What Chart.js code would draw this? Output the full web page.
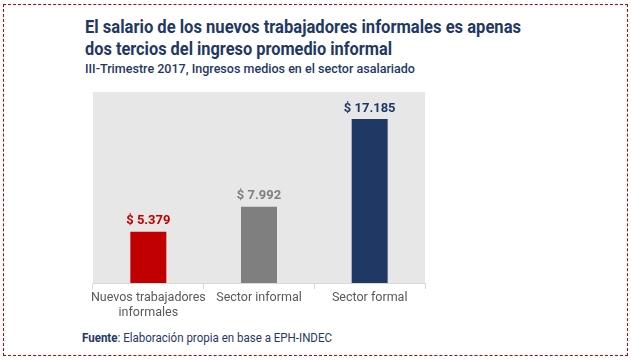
<!DOCTYPE html>
<html>
<head>
<meta charset="utf-8">
<script src="https://cdn.jsdelivr.net/npm/chart.js@4"></script>
<style>
  html, body { margin: 0; padding: 0; background: #fff; }
  body { width: 631px; height: 362px; position: relative; overflow: hidden; font-family: Roboto, sans-serif; }
  .frame { position: absolute; left: 3px; top: 4px; width: 623px; height: 350px; border: 1px dashed #c00000; }
  .txt { position: absolute; white-space: nowrap; color: #1f3864; transform-origin: left center; }
  .title { font-weight: 700; font-size: 19px; line-height: 22px; }
  .sub { font-size: 13px; font-weight: 500; }
  .foot { font-size: 12.5px; }
  #wrap { position: absolute; left: 0; top: 80px; width: 631px; height: 250px; }
</style>
</head>
<body>
<div class="frame"></div>
<div class="txt title" id="t1" data-w="436" style="left:85px; top:16px;">El salario de los nuevos trabajadores informales es apenas</div>
<div class="txt title" id="t2" data-w="307" style="left:85px; top:38px;">dos tercios del ingreso promedio informal</div>
<div class="txt sub" id="t3" data-w="330" style="left:85px; top:61px;">III-Trimestre 2017, Ingresos medios en el sector asalariado</div>
<div class="txt foot" id="t4" data-w="250" style="left:82px; top:330px;"><b>Fuente</b>: Elaboración propia en base a EPH-INDEC</div>
<div id="wrap"><canvas id="chart"></canvas></div>
<script>
var categories = [['Nuevos trabajadores', 'informales'], 'Sector informal', 'Sector formal'];
var values = [5379, 7992, 17185];
var valueLabels = ['$ 5.379', '$ 7.992', '$ 17.185'];
var barColors = ['#c00000', '#7f7f7f', '#1f3864'];

// squeeze text to the condensed widths of the original
document.querySelectorAll('.txt').forEach(function (el) {
  var target = parseFloat(el.getAttribute('data-w'));
  var w = el.getBoundingClientRect().width;
  if (w > 0) el.style.transform = 'scaleX(' + (target / w) + ')';
});

var plotBg = {
  id: 'plotBg',
  beforeDraw: function (chart) {
    var a = chart.chartArea, ctx = chart.ctx;
    ctx.save();
    ctx.fillStyle = '#e8e7e7';
    ctx.fillRect(a.left, a.top, a.right - a.left, a.bottom - a.top);
    ctx.restore();
  }
};

var barLabels = {
  id: 'barLabels',
  afterDatasetsDraw: function (chart) {
    var ctx = chart.ctx;
    var meta = chart.getDatasetMeta(0);
    ctx.save();
    ctx.font = 'bold 13px Roboto, sans-serif';
    ctx.textAlign = 'center';
    ctx.textBaseline = 'bottom';
    meta.data.forEach(function (bar, i) {
      ctx.fillStyle = barColors[i];
      ctx.fillText(valueLabels[i], bar.x, bar.y - 4);
    });
    ctx.restore();
  }
};

new Chart(document.getElementById('chart'), {
  type: 'bar',
  data: {
    labels: categories,
    datasets: [{
      data: values,
      backgroundColor: barColors,
      barPercentage: 0.65,
      categoryPercentage: 0.5
    }]
  },
  options: {
    responsive: true,
    maintainAspectRatio: false,
    animation: false,
    layout: { padding: { left: 93, right: 206, top: 12, bottom: 0 } },
    plugins: { legend: { display: false }, tooltip: { enabled: false } },
    scales: {
      x: {
        grid: { offset: true, drawOnChartArea: false, drawTicks: true, tickLength: 6, color: '#d9d9d9' },
        border: { color: '#d9d9d9' },
        ticks: {
          color: '#595959', font: { size: 12.5, family: 'Roboto' }, padding: 1,
          maxRotation: 0, minRotation: 0, autoSkip: false
        },
        afterFit: function (axis) { axis.height = 47; }
      },
      y: { display: false, min: 0, max: 20000 }
    }
  },
  plugins: [plotBg, barLabels]
});
</script>
</body>
</html>
